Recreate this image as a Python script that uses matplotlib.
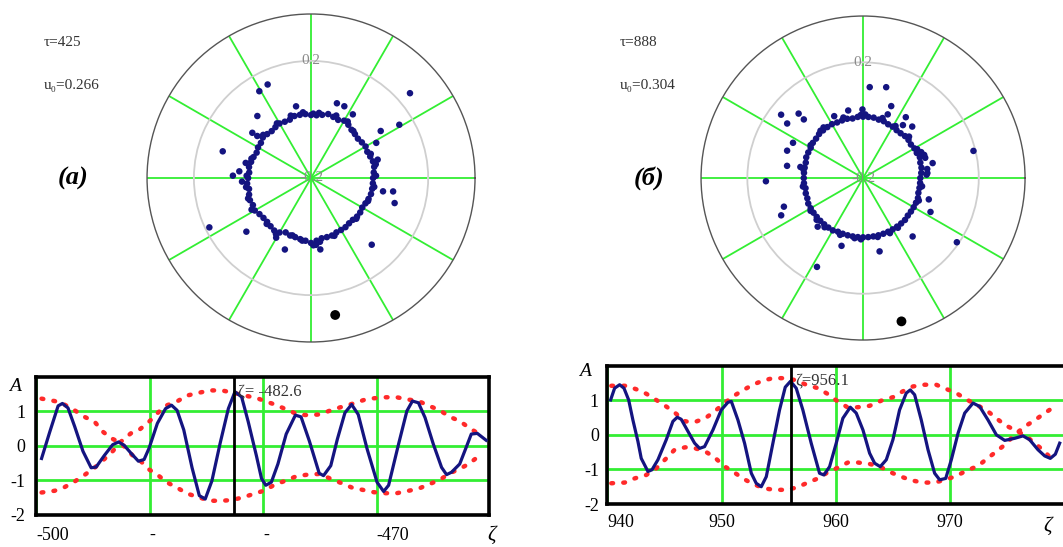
"""
Two snapshots of the bunch: polar scatter of particle phases (top) and
the wave profile A(zeta) with its beating envelope (bottom).
Panel (a) tau=425, panel (б) tau=888.
"""
import matplotlib.pyplot as plt
import matplotlib.transforms as mtransforms
import numpy as np

plt.rcParams["font.family"] = ["Liberation Serif", "DejaVu Serif"]

GREEN = "#33ee33"
NAVY  = "#141480"
RED   = "#ff2a2a"

# ---------------------------------------------------------------------------
# Panel (a) data
# ---------------------------------------------------------------------------
TAU_A, U0_A, ZETA_A = 425, 0.266, -482.6

ring_t_a = [0, 5, 10, 15, 20, 25, 30, 35, 40, 45, 50, 55, 60, 65, 70, 75, 80, 85,
            90, 95, 100, 105, 110, 115, 120, 125, 130, 135, 140, 145, 150, 155, 160, 165, 170, 175,
            180, 185, 190, 195, 200, 205, 210, 215, 220, 225, 230, 235, 240, 245, 250, 255, 260, 265,
            270, 275, 280, 285, 290, 295, 300, 305, 310, 315, 320, 325, 330, 335, 340, 345, 350, 355]
ring_r_a = [0.012, 0.015, 0.019, 0.019, 0.015, 0.012, 0.015, 0.012, 0.009, 0.012, 0.015, 0.022,
            0.026, 0.019, 0.022, 0.026, 0.019, 0.015, 0.015, 0.019, 0.019, 0.019, 0.012, 0.012,
            0.015, 0.012, 0.009, 0.012, 0.015, 0.009, 0.009, 0.005, 0.009, 0.012, 0.015, 0.012,
            0.015, 0.019, 0.015, 0.019, 0.022, 0.019, 0.022, 0.015, 0.012, 0.012, 0.015, 0.019,
            0.015, 0.005, 0.009, 0.009, 0.012, 0.015, 0.022, 0.015, 0.009, 0.009, 0.009, 0.005,
            0.005, 0.005, 0.002, 0.002, 0.005, 0.005, 0.002, 0.005, 0.009, 0.012, 0.012, 0.012]
extra_t_a = [2, 12, 22, 48, 57, 68, 83, 88, 97, 108, 122, 138, 162, 178, 188, 198, 208,
             226, 238, 252, 262, 272, 278, 292, 318, 338, 352]
extra_r_a = [0.022, 0.026, 0.020, 0.016, 0.030, 0.030, 0.024, 0.020, 0.026, 0.024, 0.020, 0.020,
             0.014, 0.020, 0.024, 0.026, 0.030, 0.018, 0.026, 0.006, 0.016, 0.030, 0.020, 0.013,
             0.008, 0.010, 0.018]
out_t_a = [120.8, 114.9, 130.9, 142.4, 163.2, 167.0, 174.7, 178.3, 205.9, 219.7, 249.9, 101.8,
           70.9, 65.1, 56.7, 40.6, 31.1, 34.0, 28.3, 15.4, 349.5, 350.7, 343.3, 312.3, 277.4,
           274.3, 239.7, 142.0, 183.0]
out_r_a = [0.145, 0.152, 0.080, 0.053, 0.115, 0.029, 0.046, 0.067, 0.186, 0.087, 0.060, 0.050,
           0.070, 0.070, 0.060, 0.245, 0.152, 0.087, 0.053, 0.036, 0.050, 0.084, 0.098, 0.108,
           0.046, 0.029, 0.036, 0.033, 0.036]
dot_a = (280, 0.275)

x_a = [-499.55, -498.82, -498.09, -497.71, -497.22, -496.63, -495.90, -495.18, -494.74, -494.01,
       -493.28, -492.76, -492.26, -491.68, -491.01, -490.51, -490.07, -489.34, -488.62, -488.09,
       -487.60, -487.01, -486.28, -485.64, -485.12, -484.53, -483.80, -483.08, -482.50, -481.91,
       -481.33, -480.60, -480.16, -479.78, -479.29, -478.71, -477.98, -477.17, -476.67, -475.94,
       -475.07, -474.69, -474.05, -473.47, -472.80, -472.21, -471.63, -470.84, -469.97, -469.39,
       -468.95, -468.07, -467.34, -466.85, -466.32, -465.74, -465.01, -464.28, -463.84, -463.40,
       -462.68, -462.09, -461.66, -461.13, -460.35]
a_a = [-0.37, 0.41, 1.16, 1.23, 1.10, 0.56, -0.16, -0.64, -0.62, -0.28,
       0.03, 0.11, 0.01, -0.21, -0.45, -0.40, -0.07, 0.65, 1.08, 1.18,
       1.03, 0.46, -0.64, -1.45, -1.55, -1.02, 0.08, 1.08, 1.57, 1.42,
       0.70, -0.30, -0.95, -1.15, -1.06, -0.53, 0.34, 0.89, 0.84, 0.14,
       -0.80, -0.87, -0.58, 0.19, 0.96, 1.20, 0.91, -0.10, -1.06, -1.33,
       -1.15, 0.05, 1.01, 1.30, 1.25, 0.82, 0.05, -0.63, -0.84, -0.77,
       -0.53, -0.03, 0.34, 0.36, 0.16]

env1_x_a = [-499.55, -498.4, -497.65, -496.63, -495.76, -494.88, -494.15, -493.42, -492.55, -491.53,
            -490.80, -490.07, -489.2, -488.47, -487.6, -486.72, -485.7, -484.68, -483.66, -482.79,
            -481.77, -480.75, -479.87, -478.99, -477.98, -477.1, -476.09, -475.07, -474.05, -473.09,
            -472.16, -471.28, -470.27, -469.25, -468.23, -467.34, -466.32, -465.45, -464.43, -463.55,
            -462.68, -461.89, -461.07]
env1_a = [1.37, 1.30, 1.22, 1.03, 0.84, 0.70, 0.41, 0.22, 0.08, -0.28,
          -0.45, -0.69, -0.88, -1.07, -1.22, -1.39, -1.50, -1.60, -1.60, -1.58,
          -1.50, -1.39, -1.30, -1.13, -1.01, -0.89, -0.84, -0.82, -0.96, -1.09,
          -1.22, -1.28, -1.35, -1.38, -1.38, -1.32, -1.25, -1.13, -0.99, -0.80,
          -0.67, -0.53, -0.32]
env2_x_a = [-499.55, -498.4, -497.5, -496.63, -495.76, -494.88, -494.15, -493.28, -492.55, -491.68,
            -490.95, -490.07, -489.2, -488.47, -487.6, -486.72, -485.7, -484.68, -483.66, -482.65,
            -481.63, -480.6, -479.87, -478.99, -477.98, -476.96, -476.09, -475.07, -474.05, -473.09,
            -472.16, -471.14, -470.27, -469.25, -468.23, -467.34, -466.32, -465.30, -464.43, -463.55,
            -462.68, -461.89, -461.07]
env2_a = [-1.36, -1.31, -1.20, -1.04, -0.85, -0.64, -0.43, -0.16, 0.12, 0.36,
          0.46, 0.70, 0.99, 1.18, 1.29, 1.46, 1.54, 1.61, 1.61, 1.54,
          1.46, 1.39, 1.30, 1.20, 1.06, 0.91, 0.89, 0.91, 1.03, 1.13,
          1.22, 1.33, 1.38, 1.41, 1.41, 1.35, 1.30, 1.15, 1.03, 0.84,
          0.72, 0.53, 0.36]

# ---------------------------------------------------------------------------
# Panel (б) data
# ---------------------------------------------------------------------------
TAU_B, U0_B, ZETA_B = 888, 0.304, 956.1

ring_t_b = ring_t_a
ring_r_b = [-0.002, 0.002, 0.005, 0.005, 0.009, 0.005, 0.005, 0.002, 0.005, 0.005, 0.002, 0.002,
            0.005, 0.005, 0.009, 0.009, 0.012, 0.012, 0.012, 0.012, 0.009, 0.012, 0.012, 0.012,
            0.015, 0.015, 0.015, 0.015, 0.012, 0.012, 0.009, 0.009, 0.009, 0.005, 0.005, 0.005,
            0.005, 0.005, 0.002, 0.005, 0.005, 0.009, 0.009, 0.009, 0.009, 0.009, 0.009, 0.009,
            0.009, 0.005, 0.005, 0.005, 0.005, 0.005, 0.005, 0.005, 0.005, 0.005, 0.005, 0.005,
            0.005, 0.005, 0.005, 0.005, 0.002, 0.002, 0.002, 0.002, 0.002, -0.002, -0.002, -0.002]
extra_t_b = [3, 8, 18, 24, 28, 42, 58, 72, 88, 92, 108, 128, 132, 148, 172, 188, 212, 222,
             232, 248, 262, 268, 284, 296, 305, 338, 352]
extra_r_b = [0.020, 0.024, 0.026, 0.020, 0.012, 0.014, 0.012, 0.018, 0.020, 0.018, 0.020, 0.022,
             0.020, 0.014, 0.008, 0.010, 0.014, 0.016, 0.016, 0.012, 0.010, 0.012, 0.010, 0.012,
             0.010, 0.008, 0.006]
out_t_b = [85.8, 75.7, 68.6, 68.8, 54.9, 46.3, 53.0, 13.8, 12.1, 342.0, 333.3, 310.3, 325.6,
           282.7, 252.4, 242.6, 227.0, 199.9, 204.5, 181.9, 170.9, 170.0, 160.2, 153.3, 142.3,
           144.3, 135.0, 135.3, 102.4, 115.0, 90.5, 20.7, 4.4]
out_r_b = [0.115, 0.124, 0.067, 0.036, 0.057, 0.046, 0.029, 0.193, 0.046, 0.039, 0.061, 0.065,
           0.193, 0.060, 0.046, 0.146, 0.030, 0.091, 0.111, 0.136, 0.066, 0.020, 0.079, 0.071,
           0.158, 0.123, 0.115, 0.088, 0.039, 0.036, 0.037, 0.026, 0.023]
dot_b = (285, 0.313)

x_b = [940.29, 940.64, 941.08, 941.46, 941.87, 942.24, 942.68, 942.97, 943.56, 943.91,
       944.43, 945.16, 945.74, 946.12, 946.47, 947.06, 947.64, 948.08, 948.51, 949.24,
       949.97, 950.55, 950.85, 951.43, 952.01, 952.60, 953.03, 953.47, 953.91, 954.49,
       955.07, 955.57, 956.03, 956.53, 957.11, 957.84, 958.57, 958.95, 959.45, 960.03,
       960.61, 961.26, 961.78, 962.37, 962.95, 963.39, 963.88, 964.41, 964.99, 965.57,
       966.16, 966.51, 966.89, 967.47, 968.06, 968.64, 969.08, 969.61, 970.10, 970.69,
       971.27, 972.00, 972.58, 973.31, 974.04, 974.77, 975.64, 976.37, 976.95, 977.68,
       978.27, 978.76, 979.20, 979.58]
a_b = [1.01, 1.35, 1.45, 1.35, 1.01, 0.43, -0.19, -0.68, -1.06, -1.01,
       -0.72, -0.14, 0.39, 0.51, 0.45, 0.10, -0.24, -0.39, -0.34, 0.14,
       0.72, 0.94, 0.97, 0.43, -0.24, -1.11, -1.40, -1.50, -1.21, -0.24,
       0.72, 1.38, 1.55, 1.35, 0.72, -0.24, -1.11, -1.16, -0.92, -0.24,
       0.48, 0.80, 0.63, 0.14, -0.53, -0.82, -0.92, -0.72, -0.14, 0.72,
       1.21, 1.30, 1.16, 0.43, -0.43, -1.11, -1.30, -1.26, -0.72, 0.05,
       0.63, 0.92, 0.82, 0.43, 0.00, -0.16, -0.10, -0.03, -0.14, -0.43,
       -0.61, -0.68, -0.56, -0.24]

env1_x_b = [940.35, 941.66, 942.53, 943.41, 944.28, 945.16, 945.95, 946.82, 947.64, 948.57,
            949.39, 950.26, 950.99, 951.86, 952.74, 953.61, 954.49, 955.36, 956.38, 957.41,
            958.43, 959.30, 960.03, 961.05, 961.92, 962.95, 963.97, 964.99, 965.86, 966.74,
            967.76, 968.78, 969.71, 970.53, 971.40, 972.28, 973.15, 974.04, 974.77, 975.64,
            976.51, 977.39, 978.27, 979.05]
env1_b = [1.42, 1.42, 1.32, 1.19, 1.01, 0.82, 0.63, 0.39, 0.37, 0.48,
          0.68, 0.92, 1.11, 1.29, 1.45, 1.57, 1.64, 1.64, 1.59, 1.45,
          1.35, 1.18, 1.00, 0.79, 0.80, 0.84, 0.99, 1.09, 1.26, 1.40,
          1.45, 1.45, 1.32, 1.21, 1.03, 0.87, 0.72, 0.48, 0.29, 0.14,
          0.00, -0.24, -0.48, -0.77]
env2_x_b = [940.35, 941.52, 942.39, 943.41, 944.28, 945.16, 945.89, 946.82, 947.70, 948.57,
            949.39, 950.20, 950.99, 951.86, 952.74, 953.76, 954.64, 955.51, 956.53, 957.41,
            958.43, 959.16, 960.03, 961.05, 961.92, 962.95, 963.97, 964.84, 965.71, 966.68,
            967.61, 968.64, 969.66, 970.53, 971.46, 972.43, 973.15, 974.04, 974.77, 975.64,
            976.51, 977.39, 978.18, 979.05]
env2_b = [-1.40, -1.38, -1.26, -1.16, -0.97, -0.68, -0.43, -0.36, -0.39, -0.48,
          -0.65, -0.90, -1.06, -1.26, -1.42, -1.55, -1.59, -1.59, -1.53, -1.40,
          -1.26, -1.11, -0.97, -0.80, -0.80, -0.84, -0.94, -1.09, -1.21, -1.32,
          -1.38, -1.38, -1.29, -1.19, -1.03, -0.90, -0.71, -0.48, -0.29, 0.00,
          0.24, 0.42, 0.61, 0.80]

# ---------------------------------------------------------------------------
# Plot
# ---------------------------------------------------------------------------
fig = plt.figure(figsize=(10.63, 5.47), dpi=100)


def polar_panel(rect, ring_t, ring_r, extra_t, extra_r, out_t, out_r, dot):
    ax = fig.add_axes(rect, projection="polar")
    ax.set_rlim(-0.2, 0.36)
    ax.set_thetagrids(np.arange(0, 360, 30), labels=[])
    ax.set_rgrids([0.2], labels=[""])
    ax.xaxis.grid(True, color=GREEN, linewidth=1.3)
    ax.yaxis.grid(True, color="#cfcfcf", linewidth=1.3)
    ax.spines["polar"].set_color("#555555")
    ax.spines["polar"].set_linewidth(1.0)
    ax.tick_params(length=0)
    ax.set_axisbelow(True)

    for t, r in [(ring_t, ring_r), (extra_t, extra_r), (out_t, out_r)]:
        ax.scatter(np.radians(t), r, s=22, color=NAVY, edgecolors="none", zorder=3)
    ax.scatter(np.radians(dot[0]), dot[1], s=50, color="black", edgecolors="none", zorder=4)

    ax.text(np.pi / 2, 0.2, "0.2", ha="center", va="center", color="#8a8a8a", fontsize=11)
    ax.text(0, -0.2, "-0.2", ha="center", va="center", color="#8a8a8a", fontsize=11)
    return ax


def line_panel(rect, xlim, xticks, xticklabels, x, a, e1x, e1, e2x, e2, zeta, zeta_label,
               xpad, ypad, a_pos, z_pos, left_all):
    ax = fig.add_axes(rect)
    ax.set_xlim(xlim)
    ax.set_ylim(-2, 2)
    ax.set_xticks(xticks)
    ax.set_xticklabels(xticklabels)
    ax.set_yticks([-2, -1, 0, 1])
    ax.set_yticklabels(["-2", "-1", "0", "1"])
    ax.grid(True, color=GREEN, linewidth=2)
    ax.set_axisbelow(True)
    ax.tick_params(length=0, labelsize=13)
    ax.tick_params(axis="x", pad=xpad)
    ax.tick_params(axis="y", pad=ypad)
    # Mathcad-style labels: first one (or all) start at the tick
    for lab in ax.get_xticklabels()[:None if left_all else 1]:
        lab.set_ha("left")
    for sp in ax.spines.values():
        sp.set_linewidth(2.6)

    for ex, ey in [(e1x, e1), (e2x, e2)]:
        ax.plot(ex, ey, color=RED, linewidth=3.2, linestyle=(0, (0.4, 2.3)),
                dash_capstyle="round", zorder=2)
    ax.plot(x, a, color=NAVY, linewidth=2.3, zorder=3)
    ax.axvline(zeta, color="black", linewidth=2, zorder=4)
    ax.text(zeta + 0.35, 1.58, zeta_label, ha="left", va="center", color="#333333",
            fontsize=12, zorder=5)

    trans = mtransforms.blended_transform_factory(ax.transAxes, ax.transData)
    ax.text(a_pos[0], a_pos[1], "A", transform=trans, ha="center", va="center",
            fontsize=14, style="italic")
    ax.text(z_pos[0], z_pos[1], "ζ", transform=ax.transAxes, ha="center", va="center",
            fontsize=15, style="italic")
    return ax


polar_panel([0.1383, 0.3748, 0.3086, 0.5996], ring_t_a, ring_r_a, extra_t_a, extra_r_a,
            out_t_a, out_r_a, dot_a)
polar_panel([0.6595, 0.3784, 0.3048, 0.5923], ring_t_b, ring_r_b, extra_t_b, extra_r_b,
            out_t_b, out_r_b, dot_b)

line_panel([0.0343, 0.0594, 0.4257, 0.2514], (-500, -460.1), [-500, -490, -480, -470],
           ["-500", "-", "-", "-470"], x_a, a_a, env1_x_a, env1_a, env2_x_a, env2_a,
           ZETA_A, f"ζ= {ZETA_A}", 9, 8, (-0.047, 1.72), (1.005, -0.15), True)
line_panel([0.5713, 0.0786, 0.4516, 0.2528], (940, 982), [940, 950, 960, 970],
           ["940", "950", "960", "970"], x_b, a_b, env1_x_b, env1_b, env2_x_b, env2_b,
           ZETA_B, f"ζ={ZETA_B}", 7, 6, (-0.046, 1.83), (0.918, -0.16), False)

# parameters and panel letters
for x0, tau, u0, letter in [(0.0414, TAU_A, U0_A, "(a)"), (0.5833, TAU_B, U0_B, "(б)")]:
    fig.text(x0, 0.923, f"τ={tau}", ha="left", va="center", fontsize=11, color="#333333")
    fig.text(x0, 0.843, f"u₀={u0}", ha="left", va="center", fontsize=11, color="#333333")
    fig.text(x0 + 0.027, 0.6746, letter, ha="center", va="center", fontsize=19,
             weight="bold", style="italic")

fig.savefig("out.png", dpi=100)
